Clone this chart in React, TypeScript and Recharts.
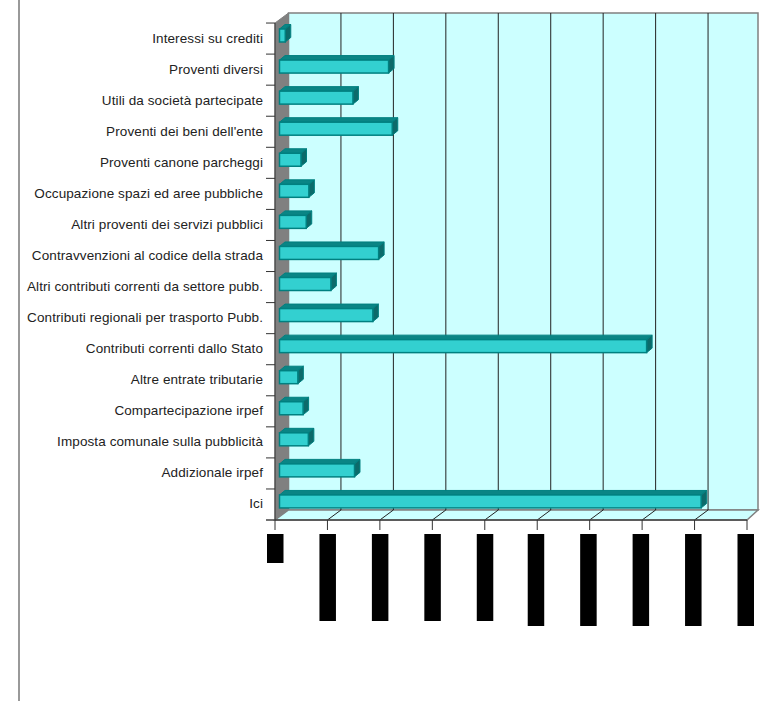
import { Bar, BarChart, ReferenceArea, ReferenceLine, XAxis, YAxis } from "recharts"

const categories = [
  "Interessi su crediti",
  "Proventi diversi",
  "Utili da società partecipate",
  "Proventi dei beni dell'ente",
  "Proventi canone parcheggi",
  "Occupazione spazi ed aree pubbliche",
  "Altri proventi dei servizi pubblici",
  "Contravvenzioni al codice della strada",
  "Altri contributi correnti da settore pubb.",
  "Contributi regionali per trasporto Pubb.",
  "Contributi correnti dallo Stato",
  "Altre entrate tributarie",
  "Compartecipazione irpef",
  "Imposta comunale sulla pubblicità",
  "Addizionale irpef",
  "Ici",
]
const values = [0.11, 2.08, 1.4, 2.15, 0.41, 0.56, 0.51, 1.89, 0.98, 1.78, 7.0, 0.35, 0.45, 0.55, 1.43, 8.04]
const xTicks = [0, 1, 2, 3, 4, 5, 6, 7, 8, 9]
// tick labels come out as solid black blocks in the reference, only their length differs
const tickBlockLengths = [29, 87, 87, 87, 87, 92, 92, 92, 92, 92]

const data = categories.map((name, i) => ({ name, value: values[i] }))

const DEPTH_X = 13.5
const DEPTH_Y = 10
const BAR_DX = 4.5
const BAR_DY = 3

function Wall({ x, y, width, height }: any) {
  const right = x + width
  const bottom = y + height
  return (
    <g>
      <polygon
        points={`${x},${y} ${x + DEPTH_X},${y - DEPTH_Y} ${x + DEPTH_X},${bottom - DEPTH_Y} ${x},${bottom}`}
        fill="#808080"
        stroke="#808080"
      />
      <rect
        x={x + DEPTH_X}
        y={y - DEPTH_Y}
        width={width - 2.5}
        height={height}
        fill="#ccffff"
        stroke="#808080"
        strokeWidth={1.5}
      />
      <polygon
        points={`${x},${bottom} ${x + DEPTH_X},${bottom - DEPTH_Y} ${x + DEPTH_X + width - 2.5},${bottom - DEPTH_Y} ${right},${bottom}`}
        fill="#ccffff"
        stroke="#808080"
        strokeWidth={1.5}
      />
    </g>
  )
}

function GridLine({ x1, y1, y2 }: any) {
  const top = Math.min(y1, y2)
  const bottom = Math.max(y1, y2)
  return (
    <g stroke="#222" strokeWidth={1}>
      <line x1={x1 + DEPTH_X} y1={top - DEPTH_Y} x2={x1 + DEPTH_X} y2={bottom - DEPTH_Y} />
      <line x1={x1} y1={bottom} x2={x1 + DEPTH_X} y2={bottom - DEPTH_Y} />
    </g>
  )
}

function Bar3D({ x, y, width, height }: any) {
  const fx = x + BAR_DX
  const fy = y - BAR_DY
  const dx = 5.5
  const dy = 4.5
  return (
    <g stroke="#008080" strokeWidth={1}>
      <polygon
        points={`${fx},${fy} ${fx + dx},${fy - dy} ${fx + width + dx},${fy - dy} ${fx + width},${fy}`}
        fill="#0a8585"
      />
      <polygon
        points={`${fx + width},${fy} ${fx + width + dx},${fy - dy} ${fx + width + dx},${fy + height - dy} ${fx + width},${fy + height}`}
        fill="#0c6a6a"
      />
      <rect x={fx} y={fy} width={width} height={height} fill="#33d0d0" strokeWidth={1.5} />
    </g>
  )
}

function CategoryTick({ x, y, payload }: any) {
  return (
    <g>
      <line x1={x - 1} y1={y - 15.5} x2={x + 8} y2={y - 15.5} stroke="#333" strokeWidth={1} />
      <text
        x={x - 4}
        y={y + 4}
        textAnchor="end"
        fontSize={13.5}
        letterSpacing={0.1}
        fill="#222"
        fontFamily="Liberation Sans"
      >
        {payload.value}
      </text>
    </g>
  )
}

function ValueTick({ x, y, payload, index }: any) {
  const base = y - 8
  const length = tickBlockLengths[index]
  // the longer blocks sit a little left of their tick
  const left = length > 87 ? x - 9.5 : x - 8
  return (
    <g>
      <line x1={x} y1={base} x2={x} y2={base + 10} stroke="#333" strokeWidth={1} />
      {payload.value === 0 && <line x1={x - 9} y1={base} x2={x} y2={base} stroke="#444" strokeWidth={1.5} />}
      <rect x={left} y={base + 14} width={16.5} height={length} fill="#000" />
    </g>
  )
}

export default function App() {
  return (
    <div style={{ position: "absolute", left: 0, top: 0, width: 767, height: 701, background: "#fff" }}>
      <div style={{ position: "absolute", left: 18, top: 0, width: 1.5, height: 701, background: "#999" }} />
      <BarChart
        layout="vertical"
        width={767}
        height={701}
        data={data}
        margin={{ top: 23, right: 20, bottom: 0, left: 0 }}
        barSize={13}
      >
        <XAxis
          type="number"
          domain={[0, 9]}
          ticks={xTicks}
          interval={0}
          height={181}
          tickLine={false}
          axisLine={{ stroke: "#444", strokeWidth: 1.5 }}
          tick={<ValueTick />}
        />
        <YAxis
          type="category"
          dataKey="name"
          width={275}
          interval={0}
          tickLine={false}
          axisLine={{ stroke: "#333", strokeWidth: 1 }}
          tick={<CategoryTick />}
        />
        <ReferenceArea x1={0} x2={9} shape={<Wall />} fillOpacity={1} zIndex={-20} />
        {xTicks.slice(1, -1).map((t) => (
          <ReferenceLine key={t} x={t} shape={<GridLine />} zIndex={-10} />
        ))}
        <Bar dataKey="value" isAnimationActive={false} shape={<Bar3D />} />
      </BarChart>
    </div>
  )
}
